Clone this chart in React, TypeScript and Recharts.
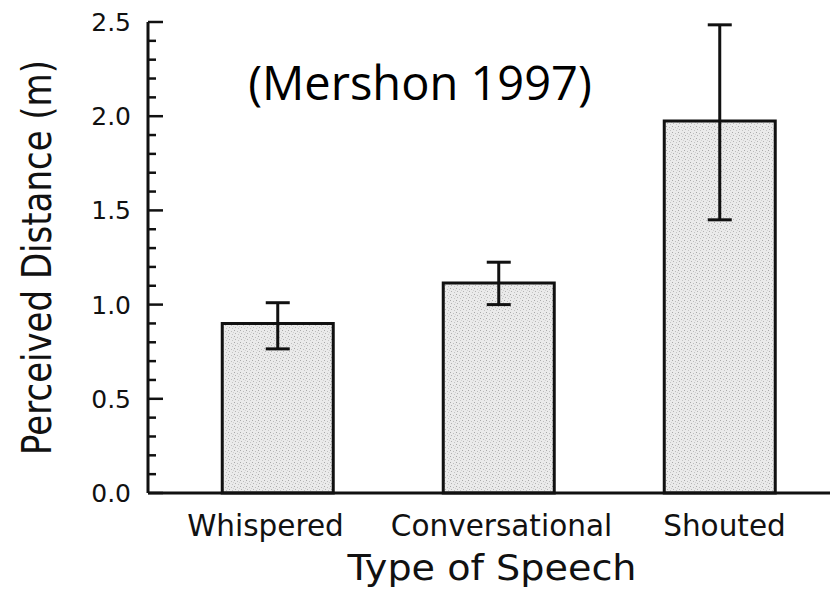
import { BarChart, Bar, XAxis, YAxis, ErrorBar, Label, Customized } from 'recharts';

const CATEGORIES = ['Whispered', 'Conversational', 'Shouted'];
const MEANS = [0.9, 1.115, 1.975];
const UPPER = [1.01, 1.225, 2.485];
const LOWER = [0.765, 1.0, 1.45];

const Y_TICKS = [
  0, 0.1, 0.2, 0.3, 0.4, 0.5, 0.6, 0.7, 0.8, 0.9, 1.0, 1.1, 1.2,
  1.3, 1.4, 1.5, 1.6, 1.7, 1.8, 1.9, 2.0, 2.1, 2.2, 2.3, 2.4, 2.5,
];

const INK = '#111';
const SANS = '"DejaVu Sans", sans-serif';

// the scanned labels sit a little off their bars
const LABEL_NUDGE: Record<string, number> = { Whispered: -12, Conversational: 3, Shouted: 5 };

const data = CATEGORIES.map((name, i) => ({
  name,
  value: MEANS[i],
  err: [MEANS[i] - LOWER[i], UPPER[i] - MEANS[i]],
}));

const isMajor = (v: number) => Math.abs(v * 2 - Math.round(v * 2)) < 1e-6;

const YTick = (props: any) => {
  const { x, y, payload } = props;
  const v = payload.value as number;
  const major = isMajor(v);
  return (
    <g>
      <line x1={x} x2={x + (major ? 15 : 8)} y1={y} y2={y} stroke={INK} strokeWidth={2.5} />
      {major && (
        <text x={x - 17} y={y} dy="0.36em" textAnchor="end" fill={INK} fontSize={25} fontFamily={SANS}>
          {v.toFixed(1)}
        </text>
      )}
    </g>
  );
};

const XTick = (props: any) => {
  const { x, y, payload } = props;
  return (
    <text
      x={x + (LABEL_NUDGE[payload.value] ?? 0)}
      y={y}
      dy={20}
      textAnchor="middle"
      fill={INK}
      fontSize={29.5}
      fontFamily={SANS}
    >
      {payload.value}
    </text>
  );
};

const Title = () => (
  <text x={420} y={100} textAnchor="middle" fill="#000" fontSize={47} fontFamily='"Open Sans", "Noto Sans", sans-serif'>
    (Mershon 1997)
  </text>
);

export default function App() {
  return (
    <div style={{ position: 'absolute', left: 0, top: 0, background: '#fff' }}>
      <BarChart
        width={834}
        height={595}
        data={data}
        margin={{ top: 22, right: 4, bottom: 0, left: 0 }}
        barCategoryGap="25%"
      >
        <defs>
          <pattern id="stipple" width="6" height="6" patternUnits="userSpaceOnUse">
            <rect width="6" height="6" fill="#eaeaea" />
            <rect x="0" y="0" width="1" height="1" fill="#a8a8a8" />
            <rect x="3" y="1" width="1" height="1" fill="#bdbdbd" />
            <rect x="1" y="3" width="1" height="1" fill="#b4b4b4" />
            <rect x="4" y="4" width="1" height="1" fill="#c4c4c4" />
            <rect x="5" y="2" width="1" height="1" fill="#d0d0d0" />
          </pattern>
        </defs>
        <XAxis
          dataKey="name"
          height={102}
          padding={{ left: 19, right: 0 }}
          axisLine={{ stroke: INK, strokeWidth: 3 }}
          tickLine={false}
          tickSize={0}
          tickMargin={23}
          tick={<XTick />}
        >
          <Label
            content={({ viewBox }: any) => (
              <text
                transform={`translate(${viewBox.x + viewBox.width / 2 + 3},${viewBox.y + 87}) scale(1.09,1)`}
                textAnchor="middle"
                fill={INK}
                fontSize={35}
                fontFamily={SANS}
              >
                Type of Speech
              </text>
            )}
          />
        </XAxis>
        <YAxis
          width={148}
          domain={[0, 2.5]}
          ticks={Y_TICKS}
          interval={0}
          axisLine={{ stroke: INK, strokeWidth: 3 }}
          tickLine={false}
          tickSize={0}
          tickMargin={0}
          tick={<YTick />}
        >
          <Label
            content={({ viewBox }: any) => (
              <text
                transform={`translate(${viewBox.x + 51},${viewBox.y + viewBox.height / 2}) scale(1.2,1) rotate(-90)`}
                textAnchor="middle"
                fill={INK}
                fontSize={34}
                fontFamily={SANS}
              >
                Perceived Distance (m)
              </text>
            )}
          />
        </YAxis>
        <Bar dataKey="value" fill="url(#stipple)" stroke={INK} strokeWidth={3} isAnimationActive={false}>
          <ErrorBar dataKey="err" width={12} stroke={INK} strokeWidth={3} isAnimationActive={false} />
        </Bar>
        <Customized component={Title} />
      </BarChart>
    </div>
  );
}
